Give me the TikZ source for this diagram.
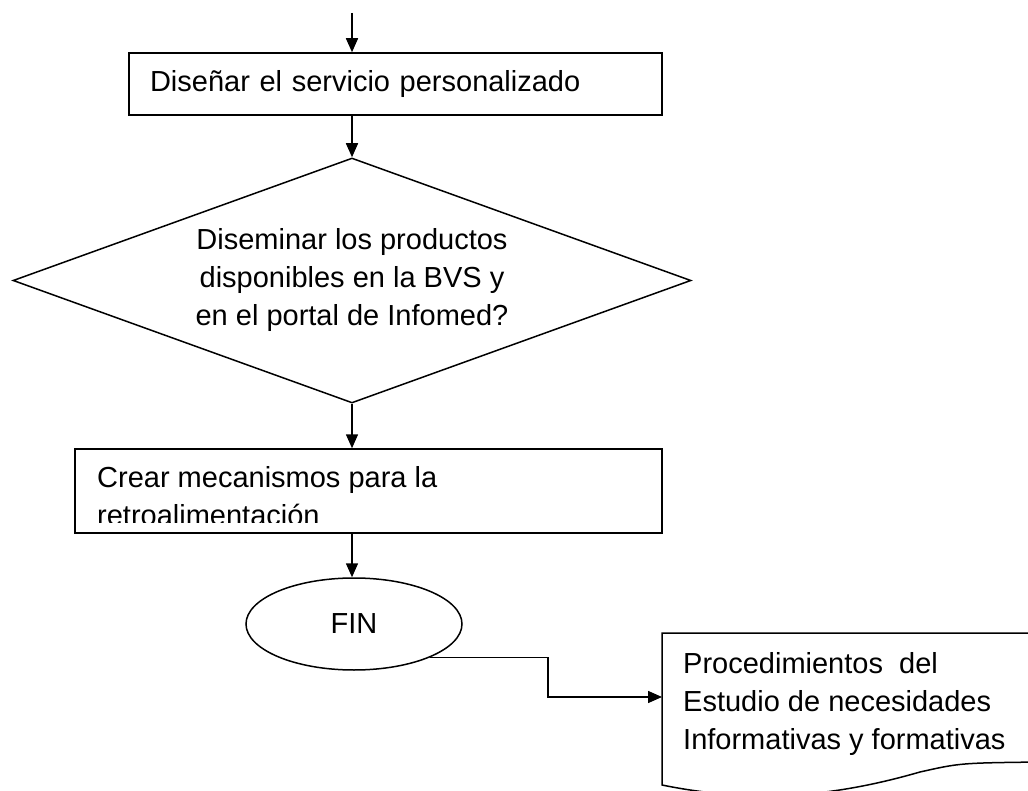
\documentclass[tikz,border=0pt]{standalone}
\usepackage{fontspec}
\setmainfont{Liberation Sans}
\usetikzlibrary{shapes.geometric,arrows.meta}
\newcommand{\flowfont}{\fontsize{29}{38}\selectfont}
\tikzset{
  flow/.style={line width=1.5pt,-{Triangle[length=14pt,width=12pt]}},
  procbox/.style={draw,line width=1.5pt,rectangle,inner sep=0pt}
}
\begin{document}
\begin{tikzpicture}[x=1pt,y=-1pt,font=\flowfont]
\clip (0,0) rectangle (1028,791);
\coordinate (start) at (352,13);
\node[procbox,minimum width=533pt,minimum height=62pt,text width=491pt,inner xsep=21pt,align=left] (box1) at (395.5,84) {Diseñar el servicio personalizado};
\node[draw,diamond,line width=1.5pt,inner sep=0pt,shape aspect=2.77,minimum width=678pt,minimum height=245pt,align=center] (dis) at (352,280.5) {Diseminar los productos\\disponibles en la BVS y\\en el portal de Infomed?};
\node[procbox,minimum width=587pt,minimum height=84pt] (box2) at (368.5,491) {};
\begin{scope}
\clip (box2.north west) rectangle ([yshift=11pt]box2.south east);
\node[anchor=north west,inner sep=0pt,align=left] (crear) at (97,466) {Crear mecanismos para la\\retroalimentación};
\end{scope}
\node[draw,ellipse,line width=1.5pt,minimum width=216pt,minimum height=92pt,inner sep=0pt] (fin) at (354,624) {FIN};
\draw[flow] (start) -- (start |- box1.north);
\draw[flow] (start |- box1.south) -- (dis.north);
\draw[flow] (dis.south) -- (dis.south |- box2.north);
\draw[flow] (dis.south |- box2.south) -- (dis.south |- fin.north);
\coordinate (docin) at (662,697);
\coordinate (bend) at (548,697);
\draw[line width=1.5pt] (1040,633) -- (662,633) -- (662,785) .. controls (760,805) and (840,795) .. (920,772) .. controls (960,763) .. (1040,762);
\node[anchor=north west,inner sep=0pt,align=left] (doc) at (683,652) {Procedimientos~ del\\Estudio de necesidades\\Informativas y formativas};
\draw[flow] (fin.-24) -| (bend) -- (docin);
\end{tikzpicture}
\end{document}
